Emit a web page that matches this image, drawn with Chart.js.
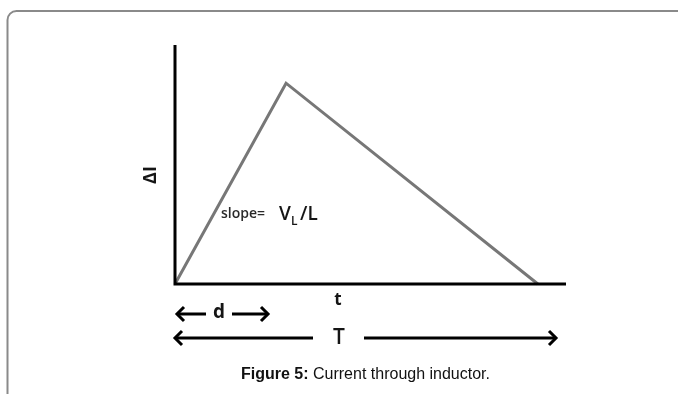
<!DOCTYPE html>
<html><head><meta charset="utf-8">
<script src="https://cdn.jsdelivr.net/npm/chart.js@4/dist/chart.umd.min.js"></script>
<style>html,body{margin:0;padding:0;background:#fff;}#wrap{width:678px;height:394px;position:relative;}</style>
</head><body><div id="wrap"><canvas id="c" width="678" height="394"></canvas></div>
<script>
const timeValues = [0, 2.84, 9.28];
const currentValues = [0, 1, 0];
const axisLabels = { y: 'ΔI', x: 't' };
const slopeLabel = 'slope=';
const caption = ['Figure 5:', ' Current through inductor.'];

const points = timeValues.map((t, i) => ({ x: t, y: currentValues[i] }));

function arrowHead(ctx, x, y, dir) {
  ctx.beginPath();
  ctx.moveTo(x - dir * 7, y - 7);
  ctx.lineTo(x, y);
  ctx.lineTo(x - dir * 7, y + 7);
  ctx.stroke();
}

const deco = {
  id: 'deco',
  beforeDraw(chart) {
    const ctx = chart.ctx;
    ctx.save();
    ctx.fillStyle = '#fff';
    ctx.fillRect(0, 0, chart.width, chart.height);
    ctx.strokeStyle = '#8a8a8a';
    ctx.lineWidth = 2;
    ctx.beginPath();
    ctx.moveTo(7.5, 400);
    ctx.lineTo(7.5, 20);
    ctx.arcTo(7.5, 11, 16, 11, 9);
    ctx.lineTo(690, 11);
    ctx.stroke();
    ctx.restore();
  },
  afterDatasetsDraw(chart) {
    const ctx = chart.ctx;
    const xs = chart.scales.x, ys = chart.scales.y;
    const x0 = xs.getPixelForValue(0), y0 = ys.getPixelForValue(0);
    const xEnd = xs.getPixelForValue(xs.max), yTop = ys.getPixelForValue(ys.max);
    ctx.save();
    ctx.strokeStyle = '#000';
    ctx.lineWidth = 3;
    ctx.beginPath();
    ctx.moveTo(x0, yTop); ctx.lineTo(x0, y0 + 1.5);
    ctx.moveTo(x0 - 1.5, y0); ctx.lineTo(xEnd, y0);
    ctx.stroke();

    ctx.fillStyle = '#151515';
    ctx.save();
    ctx.translate(151, 175);
    ctx.rotate(-Math.PI / 2);
    ctx.font = 'bold 18px "Open Sans", sans-serif';
    ctx.textAlign = 'center'; ctx.textBaseline = 'middle';
    ctx.fillText(axisLabels.y, 0, 0);
    ctx.restore();

    ctx.textBaseline = 'alphabetic';
    ctx.textAlign = 'left';
    ctx.font = '600 14px "Open Sans", sans-serif';
    ctx.fillStyle = '#2a2a2a';
    ctx.fillText(slopeLabel, 221, 218);
    ctx.fillStyle = '#151515';
    ctx.font = '600 19px "Open Sans", sans-serif';
    ctx.fillText('V', 279, 220);
    ctx.font = '600 12px "Open Sans", sans-serif';
    ctx.fillText('L', 291, 225);
    ctx.font = '600 19px "Open Sans", sans-serif';
    ctx.fillText('/L', 300, 220);

    ctx.font = 'bold 17px "Open Sans", sans-serif';
    ctx.textAlign = 'center';
    ctx.fillText(axisLabels.x, 338, 305);

    ctx.lineWidth = 3;
    const dy = 314;
    ctx.beginPath(); ctx.moveTo(177, dy); ctx.lineTo(206, dy); ctx.moveTo(232, dy); ctx.lineTo(268, dy); ctx.stroke();
    arrowHead(ctx, 177, dy, -1);
    arrowHead(ctx, 268, dy, 1);
    ctx.font = 'bold 19px "Open Sans", sans-serif';
    ctx.textBaseline = 'middle';
    ctx.fillText('d', 219, dy - 1);

    const ty = 338;
    ctx.beginPath(); ctx.moveTo(175, ty); ctx.lineTo(313, ty); ctx.moveTo(364, ty); ctx.lineTo(556, ty); ctx.stroke();
    arrowHead(ctx, 175, ty, -1);
    arrowHead(ctx, 556, ty, 1);
    ctx.font = '600 21px "Open Sans", sans-serif';
    ctx.fillText('T', 339, ty);

    ctx.textBaseline = 'alphabetic';
    ctx.textAlign = 'left';
    ctx.fillStyle = '#111';
    ctx.font = 'bold 16px "Liberation Sans", Arial, sans-serif';
    const w1 = ctx.measureText(caption[0]).width;
    const cx = 241;
    ctx.fillText(caption[0], cx, 379);
    ctx.font = '16px "Liberation Sans", Arial, sans-serif';
    ctx.fillText(caption[1], cx + w1, 379);
    ctx.restore();
  }
};

new Chart(document.getElementById('c'), {
  type: 'scatter',
  data: { datasets: [{ data: points, showLine: true, borderColor: '#777', borderWidth: 3, pointRadius: 0, fill: false, tension: 0, clip: false }] },
  options: {
    responsive: false, animation: false,
    layout: { padding: { left: 175, right: 112, top: 45, bottom: 110 } },
    plugins: { legend: { display: false }, tooltip: { enabled: false } },
    scales: {
      x: { type: 'linear', display: false, min: 0, max: 10 },
      y: { type: 'linear', display: false, min: 0, max: 1.19 }
    }
  },
  plugins: [deco]
});
</script></body></html>
